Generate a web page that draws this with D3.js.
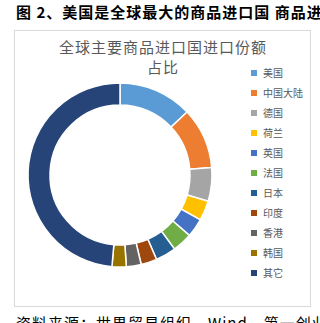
<!DOCTYPE html>
<html>
<head>
<meta charset="utf-8">
<script src="https://cdn.jsdelivr.net/npm/d3@7"></script>
<style>
  body{margin:0;padding:0;background:#fff;overflow:hidden;}
  text{font-family:"Noto Sans CJK SC","Noto Sans",sans-serif;}
</style>
</head>
<body>
<div id="chart"></div>
<script>
// 全球主要商品进口国进口份额占比
var countries = ["美国","中国大陆","德国","荷兰","英国","法国","日本","印度","香港","韩国","其它"];
var shares = [13.0,10.7,5.9,3.5,3.3,3.5,3.6,2.8,2.6,2.5,48.6];
var colors = ["#5B9BD5","#ED7D31","#A5A5A5","#FFC000","#4472C4","#70AD47","#255E91","#9E480E","#636363","#997300","#264478"];

var width = 320, height = 323;
var svg = d3.select("#chart").append("svg")
    .attr("width",width).attr("height",height);

// figure caption
svg.append("text")
    .attr("x",16).attr("y",18)
    .attr("font-size","15px").attr("font-weight","bold").attr("fill","#000")
    .attr("letter-spacing","1px")
    .text("图 2、美国是全球最大的商品进口国 商品进口");

// chart frame
svg.append("rect")
    .attr("x",14.5).attr("y",30.5)
    .attr("width",296).attr("height",276)
    .attr("fill","#fff").attr("stroke","#d9d9d9");

// chart title
var title = svg.append("text")
    .attr("text-anchor","middle")
    .attr("font-size","15px").attr("fill","#595959")
    .attr("letter-spacing","1px");
title.append("tspan").attr("x",163).attr("y",53).text("全球主要商品进口国进口份额");
title.append("tspan").attr("x",163).attr("y",73).text("占比");

// donut
var pie = d3.pie().sort(null).value(function(d){return d;});
var arc = d3.arc().innerRadius(70).outerRadius(92);
var data = pie(shares);
var g = svg.append("g").attr("transform","translate(120,175)");
g.selectAll("path").data(data).enter().append("path")
    .attr("d",arc)
    .attr("fill",function(d,i){return colors[i];})
    .attr("stroke","#fff")
    .attr("stroke-width",1.5);

// legend
var y = d3.scaleBand().domain(countries).range([63,283]);
var leg = svg.selectAll("g.leg").data(countries).enter().append("g")
    .attr("class","leg")
    .attr("transform",function(d){return "translate(251,"+(y(d)+y.bandwidth()/2)+")";});
leg.append("rect")
    .attr("x",0).attr("y",-3).attr("width",6).attr("height",6)
    .attr("fill",function(d,i){return colors[i];});
leg.append("text")
    .attr("x",12).attr("y",4)
    .attr("font-size","10px").attr("fill","#595959")
    .text(function(d){return d;});

// source note (cut by the bottom edge, as in the source image)
svg.append("text")
    .attr("x",16).attr("y",329)
    .attr("font-size","15px").attr("fill","#000")
    .attr("letter-spacing","1px")
    .text("资料来源：世界贸易组织，Wind，第一创业证券");
</script>
</body>
</html>
